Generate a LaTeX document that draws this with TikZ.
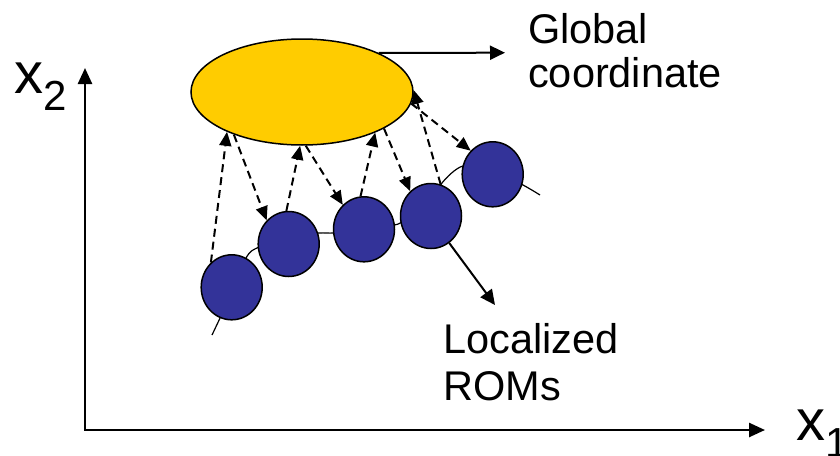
\documentclass[tikz,border=0pt]{standalone}
\usepackage{fontspec}
\setmainfont{Liberation Sans}
\usetikzlibrary{arrows.meta,shapes.geometric}
\definecolor{gold}{RGB}{255,204,0}
\definecolor{romblue}{RGB}{51,51,153}
\begin{document}
\begin{tikzpicture}[x=1pt,y=-1pt,
 rom/.style={ellipse,draw=black,line width=1.5pt,fill=romblue,minimum width=61pt,minimum height=65pt,inner sep=0pt},
 glob/.style={ellipse,draw=black,line width=1.5pt,fill=gold,minimum width=222pt,minimum height=106pt,inner sep=0pt},
 tip/.style={-{Triangle[length=15pt,width=14pt]}},
 link/.style={-{Triangle[length=14pt,width=12pt]},dash pattern=on 8pt off 5pt,line width=2pt},
 lbl/.style={anchor=base west,inner sep=0pt,font=\fontsize{41.5}{47}\selectfont},
 axlbl/.style={anchor=base west,inner sep=0pt,font=\fontsize{58}{60}\selectfont},
 axis/.style={line width=2.5pt,line join=miter,{Triangle[length=16pt,width=14pt]}-{Triangle[length=16pt,width=14pt]}}]
\useasboundingbox (0,0) rectangle (840,455);
% axes
\coordinate (o) at (85,430);
\coordinate (ytip) at (85,68);
\coordinate (xtip) at (765,430);
\draw[axis] (ytip) -- (o) -- (xtip);
\node[axlbl] (x2) at (14,93) {x\raisebox{-17pt}{\fontsize{42}{42}\selectfont 2}};
\node[axlbl] (x1) at (796,440) {x\raisebox{-17pt}{\fontsize{42}{42}\selectfont 1}};
% curve through the local ROMs
\draw[line width=1.2pt] plot[smooth,tension=0.5] coordinates {(212,335) (226,305) (246,258) (259,247) (289,236) (319,233) (334,233) (364,230) (394,225) (402,222) (432,205) (442,183) (463,166) (493,170) (523,185) (540,195)};
% global ellipse and local ROMs
\node[glob] (g) at (302,92) {};
\node[rom] (c1) at (231.7,287.3) {};
\node[rom] (c2) at (288.7,244) {};
\node[rom] (c3) at (364,229.3) {};
\node[rom] (c4) at (431,216) {};
\node[rom] (c5) at (492.7,174.3) {};
% dashed mappings
\draw[link] (c1.130) -- (g.208);
\draw[link] (g.212) -- (c2.133);
\draw[link] (c2.94) -- (g.268);
\draw[link] (g.274) -- (c3.131);
\draw[link] (c3.96) -- (g.331);
\draw[link] (g.336) -- (c4.130);
\draw[link] (c4.73) -- (g.1);
\draw[link] (g.354) -- (c5.133);
% label arrows
\coordinate (gt) at (505,52.7);
\draw[tip,line width=2pt] (g.27) -- (gt);
\coordinate (lt) at (495,305);
\draw[tip,line width=2pt] (c4.304) -- (lt);
% labels
\node[lbl] (gl1) at (528,43.3) {Global};
\node[lbl] (gl2) at (528,87.3) {coordinate};
\node[lbl] (ll1) at (443,353.3) {Localized};
\node[lbl] (ll2) at (443,400) {ROMs};
\end{tikzpicture}
\end{document}
